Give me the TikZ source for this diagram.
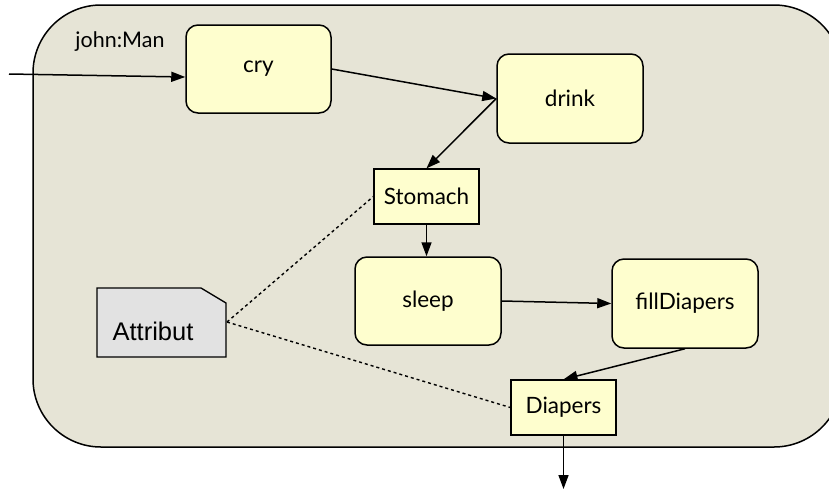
\documentclass[tikz,border=0pt]{standalone}
\usepackage{fontspec}
\setmainfont{Lato}
\newfontfamily\attrfont{Liberation Sans}
\usetikzlibrary{arrows.meta}
\definecolor{bgc}{HTML}{E6E4D6}
\definecolor{actc}{HTML}{FEFECE}
\definecolor{attrc}{HTML}{E2E2E2}
\begin{document}
\begin{tikzpicture}[x=1pt,y=-1pt,
  act/.style={draw=black,fill=actc,line width=1.5pt,rounded corners=12pt,font=\fontsize{22.5}{27}\selectfont,inner sep=0pt},
  objbox/.style={draw=black,fill=actc,line width=1.3pt,font=\fontsize{22.5}{27}\selectfont,inner sep=0pt},
  arr/.style={line width=1.5pt,-{Triangle[length=14pt,width=10pt]}},
  dotline/.style={line width=1.4pt,dash pattern=on 3pt off 3pt}]
\useasboundingbox (0,0) rectangle (829,491);
\draw[fill=bgc,line width=1.5pt,rounded corners=68pt] (33,5) rectangle (842,447);
\node[font=\fontsize{21.5}{26}\selectfont,anchor=center] (lbl) at (120,42) {john:Man};
\node[act,minimum width=145pt,minimum height=88pt] (cry) at (258.5,69) {cry};
\node[act,minimum width=146pt,minimum height=89pt] (drink) at (570,98.5) {drink};
\node[objbox,minimum width=105pt,minimum height=55pt] (stomach) at (426.5,196.5) {Stomach};
\node[act,minimum width=146pt,minimum height=88pt] (sleep) at (428,301) {sleep};
\node[act,minimum width=146pt,minimum height=89pt] (fill) at (685,303.5) {fillDiapers};
\node[objbox,minimum width=105pt,minimum height=55pt] (diapers) at (563.5,407.5) {Diapers};
\draw[fill=attrc,line width=1.3pt] (97,288) -- (201,288) -- (226,303) -- (226,357) -- (97,357) -- cycle;
\node[font=\attrfont\fontsize{25.5}{30}\selectfont] (attr) at (153,331) {Attribut};
\coordinate (attrpt) at (227,322);
\coordinate (start) at (9,74);
\coordinate (endpt) at (563.5,489);
\draw[arr] (start) -- ([yshift=-8pt]cry.west);
\draw[arr] (cry.east) -- (drink.west);
\draw[arr] (drink.west) -- (stomach.north);
\draw[arr] (stomach.south) -- (stomach.south |- sleep.north);
\draw[arr] (sleep.east) -- (fill.west);
\draw[arr] (fill.south) -- (diapers.north);
\draw[arr] (diapers.south) -- (endpt);
\draw[dotline] (attrpt) -- (stomach.west);
\draw[dotline] (attrpt) -- (diapers.west);
\end{tikzpicture}
\end{document}
